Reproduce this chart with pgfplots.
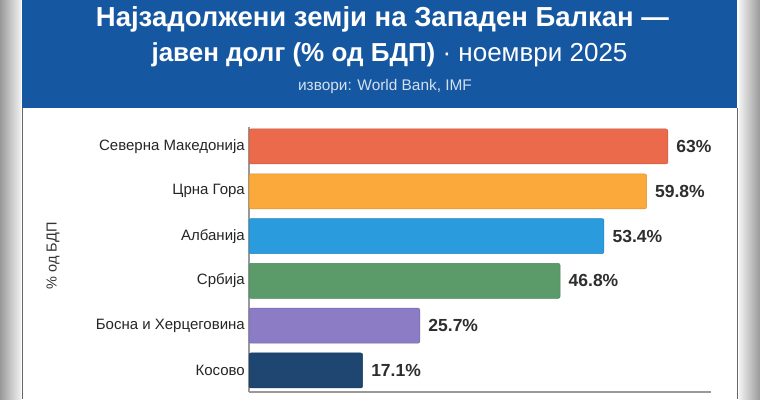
\documentclass[border=0pt]{standalone}
\usepackage{fontspec}
\setmainfont{Liberation Sans}
\usepackage{pgfplots}
\pgfplotsset{compat=1.18}
\definecolor{hdr}{HTML}{1657A1}
\definecolor{subc}{HTML}{D3E0F0}
\definecolor{cA}{HTML}{EB6A4B}
\definecolor{cB}{HTML}{FBA93B}
\definecolor{cC}{HTML}{2A9BDD}
\definecolor{cD}{HTML}{5B9B6A}
\definecolor{cE}{HTML}{8B7CC5}
\definecolor{cF}{HTML}{1E4670}
\begin{document}
\begin{tikzpicture}[x=1pt,y=1pt]
\fill[white] (0,0) rectangle (760,399);
\shade[left color=gray!80, right color=gray!10] (0,0) rectangle (21,399);
\shade[left color=gray!10, right color=gray!80] (739,0) rectangle (760,399);
\fill[hdr] (22,291) rectangle (737,399);
\draw[black!60, line width=1pt] (22,0) -- (22,291);
\draw[black!60, line width=1pt] (737.5,0) -- (737.5,291);
\node[anchor=base, text=white, font=\bfseries\fontsize{27.5}{32}\selectfont, inner sep=0pt] at (382.5,372) {Најзадолжени земји на Западен Балкан —};
\node[anchor=base, text=white, font=\fontsize{26}{30}\selectfont, inner sep=0pt] at (389.5,337) {\textbf{јавен долг (\% од БДП)} · ноември 2025};
\node[anchor=base, text=subc, font=\fontsize{15.4}{18}\selectfont, inner sep=0pt] at (385,308) {извори: World Bank, IMF};
\node[rotate=90, text=black!80, font=\fontsize{14.5}{17}\selectfont, inner sep=0pt] at (53,143) {\% од БДП};
\begin{axis}[
  at={(249pt,7pt)}, anchor=south west, scale only axis,
  width=462pt, height=265pt,
  xbar, xmin=0, xmax=69.5, ymin=-0.48, ymax=5.435,
  axis lines*=left,
  axis line style={draw=black!40, line width=1.1pt},
  xtick=\empty,
  ytick={0,1,2,3,4,5},
  yticklabels={Косово, Босна и Херцеговина, Србија, Албанија, Црна Гора, Северна Македонија},
  major tick length=0pt,
  yticklabel style={font=\fontsize{15}{18}\selectfont, text=black!85, inner sep=0pt, xshift=-4pt},
  bar width=35pt, bar shift=0pt,
  clip=false,
  point meta=x,
  nodes near coords={\pgfmathprintnumber{\pgfplotspointmeta}\%},
  nodes near coords style={font=\bfseries\fontsize{17.5}{20}\selectfont, text=black!82, anchor=west, xshift=5pt, /pgf/number format/assume math mode=true},
]
\addplot[fill=cA, draw=cA!85!black, line width=0.5pt, rounded corners=2pt] coordinates {(63,5)};
\addplot[fill=cB, draw=cB!85!black, line width=0.5pt, rounded corners=2pt] coordinates {(59.8,4)};
\addplot[fill=cC, draw=cC!85!black, line width=0.5pt, rounded corners=2pt] coordinates {(53.4,3)};
\addplot[fill=cD, draw=cD!85!black, line width=0.5pt, rounded corners=2pt] coordinates {(46.8,2)};
\addplot[fill=cE, draw=cE!85!black, line width=0.5pt, rounded corners=2pt] coordinates {(25.7,1)};
\addplot[fill=cF, draw=cF!85!black, line width=0.5pt, rounded corners=2pt] coordinates {(17.1,0)};
\end{axis}
\end{tikzpicture}
\end{document}
